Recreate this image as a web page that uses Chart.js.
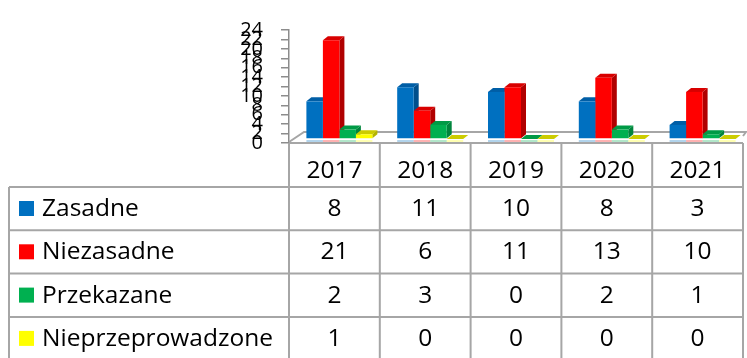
<!DOCTYPE html>
<html lang="pl">

<head>
  <meta charset="UTF-8">
  <title>Skargi 2017-2021</title>
  <script src="https://cdn.jsdelivr.net/npm/chart.js"></script>
  <style>
    html, body { margin: 0; padding: 0; background: #fff; }
    #wrap { position: relative; width: 747px; height: 358px; overflow: hidden; }
  </style>
</head>

<body>
  <div id="wrap"><canvas id="complaintsChart" width="747" height="358"></canvas></div>

  <script>
    // dane
    const years = ['2017', '2018', '2019', '2020', '2021'];
    const seriesNames = ['Zasadne', 'Niezasadne', 'Przekazane', 'Nieprzeprowadzone'];
    const zasadne = [8, 11, 10, 8, 3];
    const niezasadne = [21, 6, 11, 13, 10];
    const przekazane = [2, 3, 0, 2, 1];
    const nieprzeprowadzone = [1, 0, 0, 0, 0];
    const yTicks = [0, 2, 4, 6, 8, 10, 12, 14, 16, 18, 20, 22, 24];

    // kolory: przód, góra, bok słupka
    const frontColors = ['#0070c0', '#ff0000', '#00b050', '#ffff00'];
    const topColors = ['#005ea6', '#d80000', '#009a46', '#cccc00'];
    const sideColors = ['#004f8c', '#b00000', '#00843c', '#b5b500'];

    const DX = 5, DY = 4;        // głębokość 3D słupka
    const SHIFT_X = 5, SHIFT_Y = -4;
    const GRID = '#a6a6a6';
    const FONT = "'Open Sans', sans-serif";

    const allSeries = [zasadne, niezasadne, przekazane, nieprzeprowadzone];

    function quad(ctx, pts, color) {
      ctx.beginPath();
      ctx.moveTo(pts[0][0], pts[0][1]);
      for (let i = 1; i < pts.length; i++) ctx.lineTo(pts[i][0], pts[i][1]);
      ctx.closePath();
      ctx.fillStyle = color;
      ctx.fill();
    }

    const bars3d = {
      id: 'bars3d',
      beforeDatasetsDraw(chart) {
        const ctx = chart.ctx;
        const area = chart.chartArea;

        // podłoga
        ctx.save();
        ctx.strokeStyle = GRID;
        ctx.lineWidth = 2;
        ctx.beginPath();
        ctx.moveTo(area.left, area.bottom - 1);
        ctx.lineTo(area.left + 15, area.bottom - 11);
        ctx.lineTo(area.right + 3, area.bottom - 11);
        ctx.lineTo(area.right, area.bottom - 7);
        ctx.stroke();
        ctx.restore();

        // odbicia pod słupkami
        ctx.save();
        ctx.globalAlpha = 0.3;
        chart.data.datasets.forEach((ds, di) => {
          chart.getDatasetMeta(di).data.forEach(bar => {
            const l = bar.x - bar.width / 2 + SHIFT_X;
            ctx.fillStyle = frontColors[di];
            ctx.fillRect(l, area.bottom - 3, bar.width, 2);
          });
        });
        ctx.restore();

        ctx.save();
        ctx.translate(SHIFT_X, SHIFT_Y);
        // boki, potem góry; przody rysuje Chart.js
        chart.data.datasets.forEach((ds, di) => {
          chart.getDatasetMeta(di).data.forEach(bar => {
            const r = bar.x + bar.width / 2;
            if (bar.base - bar.y < 0.5) return;
            quad(ctx, [[r, bar.y], [r + DX, bar.y - DY], [r + DX, bar.base - DY], [r, bar.base]], sideColors[di]);
          });
        });
        chart.data.datasets.forEach((ds, di) => {
          chart.getDatasetMeta(di).data.forEach(bar => {
            const l = bar.x - bar.width / 2;
            const r = bar.x + bar.width / 2;
            quad(ctx, [[l, bar.y], [r, bar.y], [r + DX, bar.y - DY], [l + DX, bar.y - DY]], topColors[di]);
          });
        });
      },
      afterDatasetsDraw(chart) {
        chart.ctx.restore();
      },
      afterDraw(chart) {
        const ctx = chart.ctx;
        const x = chart.scales.x;
        const area = chart.chartArea;
        const band = (area.right - area.left) / years.length;
        const headTop = area.bottom;
        const rowTop = 187;
        const rowH = 43.3;
        const bottom = rowTop + rowH * 4;
        const left = 9;

        ctx.save();
        ctx.strokeStyle = GRID;
        ctx.lineWidth = 2;
        ctx.beginPath();
        ctx.moveTo(area.left, headTop);
        ctx.lineTo(area.right, headTop);
        for (let i = 0; i <= 4; i++) {
          ctx.moveTo(left, rowTop + i * rowH);
          ctx.lineTo(area.right, rowTop + i * rowH);
        }
        ctx.moveTo(left, rowTop);
        ctx.lineTo(left, bottom);
        for (let i = 0; i <= years.length; i++) {
          const cx = area.left + i * band;
          ctx.moveTo(cx, headTop);
          ctx.lineTo(cx, bottom);
        }
        ctx.stroke();

        ctx.fillStyle = '#000';
        ctx.font = '24.5px ' + FONT;
        ctx.textBaseline = 'alphabetic';
        ctx.textAlign = 'center';
        years.forEach((y, i) => {
          ctx.fillText(y, x.getPixelForValue(i), headTop + 35);
        });

        seriesNames.forEach((name, si) => {
          const base = rowTop + si * rowH + 29;
          ctx.fillStyle = frontColors[si];
          ctx.fillRect(19, base - 15, 15, 15);
          ctx.fillStyle = '#000';
          ctx.textAlign = 'left';
          ctx.fillText(name, 42, base);
          ctx.textAlign = 'center';
          allSeries[si].forEach((v, i) => {
            ctx.fillText(String(v), x.getPixelForValue(i), base);
          });
        });
        ctx.restore();
      }
    };

    const ctx = document.getElementById('complaintsChart').getContext('2d');
    new Chart(ctx, {
      type: 'bar',
      data: {
        labels: years,
        datasets: seriesNames.map((name, i) => ({
          label: name,
          data: allSeries[i],
          backgroundColor: frontColors[i],
          borderWidth: 0,
          barPercentage: 1,
          categoryPercentage: 0.727
        }))
      },
      options: {
        responsive: false,
        animation: false,
        layout: { padding: { left: 0, right: 4, top: 22, bottom: 215 } },
        plugins: { legend: { display: false }, tooltip: { enabled: false } },
        scales: {
          x: { display: false },
          y: {
            min: 0,
            max: 24,
            afterFit(scale) { scale.width = 289; },
            afterBuildTicks(scale) { scale.ticks = yTicks.map(v => ({ value: v })); },
            ticks: {
              autoSkip: false,
              padding: 18,
              color: '#000',
              font: { family: FONT, size: 20 }
            },
            grid: {
              drawOnChartArea: false,
              tickLength: 8,
              color: '#8c8c8c',
              lineWidth: 1.5
            },
            border: { color: '#8c8c8c', width: 1.5 }
          }
        }
      },
      plugins: [bars3d]
    });
  </script>
</body>

</html>
